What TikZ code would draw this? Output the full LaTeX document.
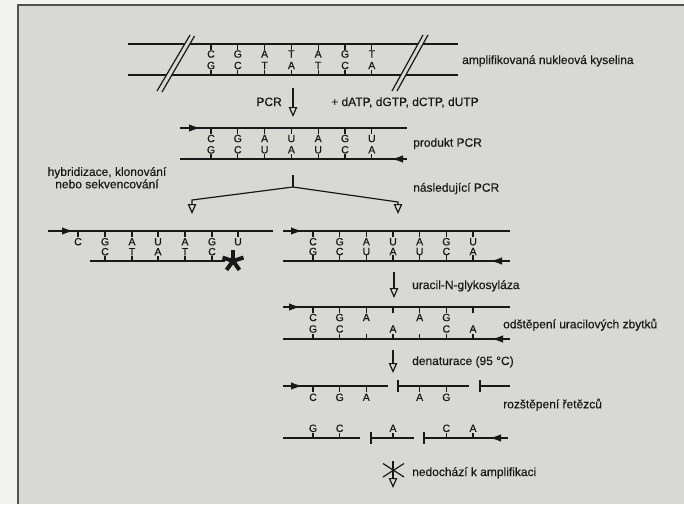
\documentclass[tikz,border=0pt]{standalone}
\usepackage{fontspec}
\setmainfont{Liberation Sans}[FakeBold=0.25]
\newfontfamily\basefont{Liberation Sans}[FakeBold=0.6]
\usetikzlibrary{arrows.meta}
\definecolor{paper}{RGB}{216,217,212}
\definecolor{outside}{RGB}{243,243,241}
\definecolor{ink}{RGB}{24,24,24}
\begin{document}
\begin{tikzpicture}[x=1pt,y=-1pt,
  strand/.style={draw=ink,line width=2pt},
  tick/.style={draw=ink,line width=1.2pt},
  base/.style={font=\basefont\fontsize{10.5}{10.5}\selectfont,text=ink,inner sep=0pt},
  lab/.style={font=\fontsize{12}{14}\selectfont,text=ink,inner sep=0pt,anchor=base west},
  flowarrow/.style={draw=ink,line width=1.2pt,-{Triangle[open,length=10pt,width=8.5pt]}},
  prim/.style={draw=ink,line width=2pt,-{Latex[length=12pt,width=7.5pt]}},
  nick/.style={draw=ink,line width=1.8pt}]
\useasboundingbox (0,0) rectangle (684,504);
% background and frame
\fill[outside] (0,0) rectangle (684,504);
\fill[paper] (18,5) rectangle (684,504);
\draw[ink!75,line width=1.6pt] (18,504) -- (18,5) -- (684,5);

% ---------- amplified nucleic acid ----------
\draw[strand] (128,44) -- (458,44);
\draw[strand] (128,75) -- (458,75);
\fill[paper] (157,91) -- (190,35) -- (194.5,36) -- (162,92) -- cycle;
\fill[paper] (392,91) -- (423,35) -- (428,35) -- (397,91) -- cycle;
\draw[tick] (157,91) -- (190,35) (162,92) -- (194.5,36);
\draw[tick] (392,91) -- (423,35) (397,91) -- (428,35);
\foreach \t/\b [count=\i from 0] in {C/G,G/C,A/T,T/A,A/T,G/C,T/A}{
  \pgfmathsetmacro\xx{211+26.8*\i}
  \draw[tick] (\xx,44) -- (\xx,50);
  \draw[tick] (\xx,75) -- (\xx,69.5);
  \node[base] (sa\i) at (\xx,54) {\t};
  \node[base] (sb\i) at (\xx,65.5) {\b};
}
\node[lab] (lamp) at (462,64) {amplifikovaná nukleová kyselina};

% PCR arrow
\coordinate (p1) at (293,88);
\coordinate (p2) at (293,117);
\draw[flowarrow] (p1) -- (p2);
\node[lab,anchor=base east] (lpcr) at (282,106) {PCR};
\node[lab] (ldntp) at (331,106) {+ dATP, dGTP, dCTP, dUTP};

% ---------- PCR product ----------
\draw[strand] (180,128) -- (407,128);
\draw[prim] (180,128) -- (201,128);
\draw[strand] (180,159) -- (407,159);
\draw[prim] (407,159) -- (391,159);
\foreach \t/\b [count=\i from 0] in {C/G,G/C,A/U,U/A,A/U,G/C,U/A}{
  \pgfmathsetmacro\xx{211+26.8*\i}
  \draw[tick] (\xx,128) -- (\xx,134);
  \draw[tick] (\xx,159) -- (\xx,153.8);
  \node[base] (pa\i) at (\xx,138.5) {\t};
  \node[base] (pb\i) at (\xx,149.8) {\b};
}
\node[lab] (lprod) at (413,146.7) {produkt PCR};

% split
\coordinate (s0) at (293,175);
\coordinate (s1) at (293,187);
\coordinate (sl) at (192,200);
\coordinate (sl2) at (192,214);
\coordinate (sr) at (398,202);
\coordinate (sr2) at (398,214);
\draw[ink,line width=1.2pt] (s0) -- (s1);
\draw[flowarrow] (s1) -- (sl) -- (sl2);
\draw[flowarrow] (s1) -- (sr) -- (sr2);
\node[lab,anchor=base,align=center,font=\fontsize{12}{12.4}\selectfont] (lhyb) at (107,188.3) {hybridizace, klonování\\nebo sekvencování};
\node[lab] (lnext) at (413,191.7) {následující PCR};

% ---------- left: hybridisation ----------
\draw[strand] (48,231) -- (273,231);
\draw[prim] (48,231) -- (74,231);
\draw[strand] (90,261) -- (225,261);
\foreach \t/\xx [count=\i from 0] in {C/78,G/105,A/132,U/158,A/185,G/212,U/238}{
  \draw[tick] (\xx,231) -- (\xx,237);
  \node[base] (ha\i) at (\xx,241.7) {\t};
}
\foreach \t/\xx [count=\i from 0] in {C/105,T/132,A/158,T/185,C/212}{
  \draw[tick] (\xx,261) -- (\xx,255.6);
  \node[base] (hb\i) at (\xx,251.7) {\t};
}
\foreach \a in {270,342,54,126,198}
  \draw[ink,line width=4pt] (233,261) -- ++(\a:11);

% ---------- right: next PCR ----------
\draw[strand] (283,231) -- (510,231);
\draw[prim] (283,231) -- (303,231);
\draw[strand] (283,261) -- (510,261);
\draw[prim] (510,261) -- (490,261);
\foreach \t/\b [count=\i from 0] in {C/G,G/C,A/U,U/A,A/U,G/C,U/A}{
  \pgfmathsetmacro\xx{313+26.67*\i}
  \draw[tick] (\xx,231) -- (\xx,237);
  \draw[tick] (\xx,261) -- (\xx,255.4);
  \node[base] (na\i) at (\xx,241.7) {\t};
  \node[base] (nb\i) at (\xx,251.5) {\b};
}

% uracil-N-glycosylase
\coordinate (u1) at (394,272);
\coordinate (u2) at (394,298);
\draw[flowarrow] (u1) -- (u2);
\node[lab] (lung) at (412,289) {uracil-N-glykosyláza};

% ---------- uracil removal ----------
\draw[strand] (283,307) -- (510,307);
\draw[prim] (283,307) -- (301,307);
\draw[strand] (283,339) -- (510,339);
\draw[prim] (510,339) -- (491,339);
\foreach \t/\b [count=\i from 0] in {C/G,G/C,A/{},{}/A,A/{},G/C,{}/A}{
  \pgfmathsetmacro\xx{313+26.67*\i}
  \draw[tick] (\xx,307) -- (\xx,312.5);
  \draw[tick] (\xx,339) -- (\xx,333.5);
  \node[base] (ra\i) at (\xx,317.5) {\t};
  \node[base] (rb\i) at (\xx,329) {\b};
}
\node[lab] (lrem) at (503,328.3) {odštěpení uracilových zbytků};

% denaturation
\coordinate (d1) at (393,350);
\coordinate (d2) at (393,373);
\draw[flowarrow] (d1) -- (d2);
\node[lab] (lden) at (412,365) {denaturace (95 °C)};

% ---------- denatured top strand ----------
\draw[strand] (283,386) -- (388,386);
\draw[prim] (283,386) -- (303,386);
\draw[strand] (398,386) -- (469,386);
\draw[nick] (398,380) -- (398,392);
\draw[strand] (480,386) -- (510,386);
\draw[nick] (480,380) -- (480,392);
\foreach \t/\i in {C/0,G/1,A/2,A/4,G/5}{
  \pgfmathsetmacro\xx{313+26.67*\i}
  \draw[tick] (\xx,386) -- (\xx,391.5);
  \node[base] (ta\i) at (\xx,397.3) {\t};
}
\node[lab] (lsplit) at (503,408.3) {rozštěpení řetězců};

% ---------- denatured bottom strand ----------
\draw[strand] (283,438) -- (360,438);
\draw[strand] (371,438) -- (414,438);
\draw[nick] (371,432) -- (371,444);
\draw[strand] (424,438) -- (508,438);
\draw[nick] (424,432) -- (424,444);
\draw[prim] (508,438) -- (489,438);
\foreach \t/\i in {G/0,C/1,A/3,C/5,A/6}{
  \pgfmathsetmacro\xx{313+26.67*\i}
  \draw[tick] (\xx,438) -- (\xx,433);
  \node[base] (tb\i) at (\xx,428.3) {\t};
}

% ---------- no amplification ----------
\coordinate (e1) at (393,461);
\coordinate (e2) at (393,488);
\draw[flowarrow] (e1) -- (e2);
\draw[ink,line width=1.2pt] (383,463.5) -- (404,477) (383,477) -- (404,463.5);
\node[lab] (lno) at (412,476) {nedochází k amplifikaci};
\end{tikzpicture}
\end{document}
